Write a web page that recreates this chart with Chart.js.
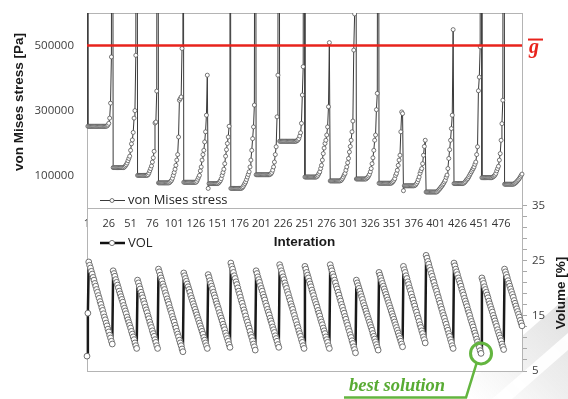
<!DOCTYPE html>
<html><head><meta charset="utf-8">
<script src="https://cdn.jsdelivr.net/npm/chart.js@4.4.1/dist/chart.umd.min.js"></script>
<style>html,body{margin:0;padding:0;background:#fff;}#wrap{position:relative;width:568px;height:399px;}</style>
</head><body><div id="wrap"><canvas id="c" width="568" height="399"></canvas></div>
<script>
// von Mises stress [Pa] per iteration (values above 600000 run off the top of the plot)
const stress = [
2500000,252000,
252000,252000,252000,252000,252000,252000,252000,252000,252000,252000,
252000,252000,252000,252000,252000,252000,252000,252000,252000,252000,
252000,253000,256000,261000,277000,323000,465000,2500000,
125000,125000,125000,125000,125000,125000,125000,125000,125000,125000,125000,125000,
125000,127000,130000,134000,139000,146000,153000,160000,178000,198000,210000,233000,277000,300000,470000,2500000,
101000,101000,101000,101000,101000,101000,101000,101000,101000,101000,101000,101000,
103000,108000,115000,122000,130000,142000,155000,175000,262000,265000,360000,2500000,
78000,78000,78000,78000,78000,78000,78000,78000,78000,78000,78000,78000,78000,
80000,83000,86000,92000,101000,110000,120000,132000,148000,165000,219000,332000,337000,342000,491000,2500000,
80000,80000,80000,80000,80000,80000,80000,80000,80000,80000,80000,80000,80000,80000,80000,
83000,89000,95000,101000,115000,127000,148000,165000,178000,204000,235000,286000,409000,
61000,76000,76000,76000,76000,76000,76000,76000,76000,76000,76000,76000,
78000,81000,85000,91000,101000,110000,120000,137000,160000,180000,199000,219000,252000,2500000,
61000,61000,61000,61000,61000,61000,61000,61000,61000,61000,61000,61000,61000,
63000,66000,71000,76000,81000,88000,96000,104000,112000,127000,148000,178000,214000,250000,317000,2500000,
103000,103000,103000,103000,103000,103000,103000,103000,103000,103000,103000,103000,103000,103000,103000,103000,
104000,106000,110000,117000,127000,142000,165000,189000,281000,409000,2500000,
206000,206000,206000,206000,206000,206000,206000,206000,206000,206000,
206000,206000,206000,206000,206000,206000,206000,206000,206000,206000,
208000,210000,214000,222000,232000,261000,348000,435000,2500000,
96000,96000,96000,96000,96000,96000,96000,96000,96000,96000,96000,96000,96000,96000,
98000,101500,107000,112000,122000,132000,148000,168000,185000,199000,209000,225000,250000,312000,509000,
84000,84000,84000,84000,84000,84000,84000,84000,84000,84000,84000,84000,
85000,87000,91000,96000,102000,107000,117000,127000,140000,153000,173000,190000,209000,235000,268000,486000,597000,2500000,
90000,90000,90000,90000,90000,90000,90000,90000,90000,90000,90000,90000,
93000,95000,99000,104000,112000,122000,137000,155000,178000,209000,225000,303000,353000,2500000,
77000,77000,77000,77000,77000,77000,77000,77000,77000,77000,77000,77000,77000,77000,77000,
79000,82000,86000,91000,101000,107000,117000,132000,148000,163000,235000,296000,291000,
54000,69000,69000,69000,69000,69000,69000,69000,69000,69000,69000,69000,69000,
70000,72000,76000,81000,88000,96000,107000,115000,122000,137000,163000,190000,209000,
50000,50000,50000,50000,50000,50000,50000,50000,50000,50000,50000,50000,50000,
52000,55000,58000,61000,65000,68000,72000,76000,81000,86000,95000,102000,122000,153000,180000,209000,245000,286000,549000,
76000,76000,76000,76000,76000,76000,76000,76000,76000,76000,76000,
77000,79000,82000,86000,89000,92000,97000,102000,107000,112000,117000,122000,127000,135000,142000,165000,189000,361000,403000,496000,2500000,
94000,94000,94000,94000,94000,94000,94000,94000,94000,94000,94000,94000,
95000,97000,99000,102000,107000,115000,122000,129000,148000,168000,209000,260000,332000,2500000,
74000,74000,74000,74000,74000,74000,74000,74000,74000,74000,74000,
75000,77000,79000,82000,85000,88000,92000,96000,101000,105000
];

// Volume [%] per iteration
const vol = [
7.7,15.5,
24.8,24.2,23.7,23.1,22.6,22.0,21.5,20.9,20.4,19.8,19.3,18.7,18.2,17.6,17.1,16.5,16.0,15.4,14.8,14.3,13.7,13.2,12.6,12.1,11.5,11.0,10.4,9.9,
23.2,22.7,22.2,21.6,21.1,20.6,20.1,19.5,19.0,18.5,18.0,17.5,16.9,16.4,15.9,15.4,14.8,14.3,13.8,13.3,12.8,12.2,11.7,11.2,10.7,10.1,9.6,9.1,
21.5,21.0,20.4,19.9,19.3,18.8,18.3,17.7,17.2,16.6,16.1,15.6,15.0,14.5,13.9,13.4,12.9,12.3,11.8,11.3,10.7,10.2,9.6,9.1,
23.5,23.0,22.4,21.9,21.4,20.8,20.3,19.8,19.2,18.7,18.1,17.6,17.1,16.5,16.0,15.5,14.9,14.4,13.9,13.3,12.8,12.2,11.7,11.2,10.6,10.1,9.6,9.0,8.5,
22.8,22.3,21.8,21.3,20.8,20.3,19.8,19.3,18.7,18.2,17.7,17.2,16.7,16.2,15.7,15.2,14.7,14.2,13.7,13.2,12.7,12.2,11.7,11.1,10.6,10.1,9.6,9.1,
22.5,22.0,21.4,20.9,20.4,19.9,19.3,18.8,18.3,17.7,17.2,16.7,16.2,15.6,15.1,14.6,14.1,13.5,13.0,12.5,11.9,11.4,10.9,10.4,9.8,9.3,
24.6,24.0,23.5,22.9,22.3,21.8,21.2,20.7,20.1,19.5,19.0,18.4,17.8,17.3,16.7,16.1,15.6,15.0,14.4,13.9,13.3,12.8,12.2,11.6,11.1,10.5,9.9,9.4,8.8,
23.2,22.7,22.1,21.6,21.1,20.5,20.0,19.5,18.9,18.4,17.9,17.3,16.8,16.2,15.7,15.2,14.6,14.1,13.6,13.0,12.5,12.0,11.4,10.9,10.4,9.8,9.3,
24.3,23.8,23.2,22.7,22.1,21.6,21.0,20.5,20.0,19.4,18.9,18.3,17.8,17.2,16.7,16.2,15.6,15.1,14.5,14.0,13.4,12.9,12.3,11.8,11.3,10.7,10.2,9.6,9.1,
24.0,23.5,22.9,22.4,21.9,21.3,20.8,20.3,19.7,19.2,18.7,18.1,17.6,17.1,16.6,16.0,15.5,15.0,14.4,13.9,13.4,12.8,12.3,11.8,11.2,10.7,10.2,9.6,9.1,
24.3,23.7,23.2,22.6,22.1,21.5,21.0,20.4,19.9,19.3,18.8,18.2,17.7,17.1,16.6,16.0,15.5,14.9,14.4,13.8,13.3,12.7,12.2,11.6,11.1,10.5,10.0,9.4,8.9,8.3,
21.5,21.0,20.5,20.0,19.5,19.0,18.5,18.0,17.4,16.9,16.4,15.9,15.4,14.9,14.4,13.9,13.4,12.9,12.4,11.8,11.3,10.8,10.3,9.8,9.3,8.8,
22.9,22.4,21.9,21.4,20.9,20.4,19.9,19.4,18.9,18.4,17.9,17.4,16.9,16.4,15.9,15.4,14.9,14.4,13.9,13.4,12.9,12.4,11.9,11.4,10.9,10.4,9.9,9.4,
24.0,23.4,22.9,22.3,21.8,21.2,20.7,20.1,19.6,19.0,18.4,17.9,17.3,16.8,16.2,15.7,15.1,14.6,14.0,13.4,12.9,12.3,11.8,11.2,10.7,10.1,
26.0,25.5,24.9,24.4,23.8,23.3,22.7,22.2,21.6,21.1,20.5,20.0,19.5,18.9,18.4,17.8,17.3,16.7,16.2,15.6,15.1,14.6,14.0,13.5,12.9,12.4,11.8,11.3,10.7,10.2,9.6,9.1,
24.6,24.1,23.5,23.0,22.5,21.9,21.4,20.9,20.4,19.8,19.3,18.8,18.2,17.7,17.2,16.7,16.1,15.6,15.1,14.5,14.0,13.5,13.0,12.4,11.9,11.4,10.8,10.3,9.8,9.3,8.7,8.2,
21.9,21.4,20.9,20.3,19.8,19.3,18.8,18.3,17.7,17.2,16.7,16.2,15.7,15.1,14.6,14.1,13.6,13.1,12.5,12.0,11.5,11.0,10.5,9.9,9.4,8.9,
23.5,23.0,22.5,22.0,21.4,20.9,20.4,19.9,19.4,18.9,18.4,17.8,17.3,16.8,16.3,15.8,15.3,14.8,14.2,13.7,13.2
];

const xTickLabels = ['1','26','51','76','101','126','151','176','201','226','251','276','301','326','351','376','401','426','451','476'];
const stressTickValues = [100000, 300000, 500000];
const volTickValues = [5,7,9,11,13,15,17,19,21,23,25,27,29,31,33,35];
const volLabelValues = [5,15,25,35];
const stressLimit = 500000;
const bestIteration = 453;
const seriesNames = ['von Mises stress', 'VOL'];
const categories = stress.map((_, i) => String(i + 1));

const SANS = "'Open Sans', sans-serif";
const BOLD = "'Liberation Sans', Arial, sans-serif";
const SERIF = "'Liberation Serif', 'DejaVu Serif', serif";

const decor = {
  id: 'decor',
  beforeDraw(chart) {
    const {ctx, chartArea: a} = chart;
    ctx.save();
    const g = ctx.createLinearGradient(470, 399, 568, 300);
    g.addColorStop(0, 'rgba(210,210,210,0.0)');
    g.addColorStop(0.5, 'rgba(200,200,200,0.3)');
    g.addColorStop(1, 'rgba(185,185,185,0.45)');
    ctx.fillStyle = g;
    ctx.beginPath(); ctx.moveTo(450, 399); ctx.lineTo(568, 296); ctx.lineTo(568, 399); ctx.closePath(); ctx.fill();
    ctx.fillStyle = 'rgba(255,255,255,0.95)';
    ctx.beginPath(); ctx.moveTo(492, 399); ctx.lineTo(568, 333); ctx.lineTo(568, 350); ctx.lineTo(512, 399); ctx.closePath(); ctx.fill();
    ctx.fillStyle = '#fff';
    ctx.fillRect(a.left, a.top, a.right - a.left, a.bottom - a.top);
    ctx.restore();
  },
  beforeDatasetsDraw(chart) {
    const {ctx, chartArea: a} = chart;
    ctx.save();
    ctx.strokeStyle = '#b4b4b4'; ctx.lineWidth = 1;
    ctx.beginPath();
    ctx.moveTo(a.left, Math.round(a.top) + 0.5); ctx.lineTo(a.right, Math.round(a.top) + 0.5);
    ctx.moveTo(a.left, Math.round(a.bottom) + 0.5); ctx.lineTo(a.right, Math.round(a.bottom) + 0.5);
    ctx.stroke();
    ctx.restore();
  },
  afterDatasetsDraw(chart) {
    const {ctx, chartArea: a, scales} = chart;
    ctx.save();
    // limit line
    const ly = scales.y.getPixelForValue(stressLimit);
    ctx.strokeStyle = '#e8231c'; ctx.lineWidth = 2.5;
    ctx.beginPath(); ctx.moveTo(a.left, ly); ctx.lineTo(a.right, ly); ctx.stroke();
    ctx.fillStyle = '#e8231c';
    ctx.font = "italic bold 20px " + SERIF;
    ctx.textAlign = 'left'; ctx.textBaseline = 'alphabetic';
    ctx.fillText('g', 529, ly + 7);
    ctx.fillRect(528, ly - 7, 15, 2);

    // axis titles
    ctx.fillStyle = '#1a1a1a';
    ctx.font = "bold 13.5px " + BOLD;
    ctx.textAlign = 'center'; ctx.textBaseline = 'middle';
    ctx.save(); ctx.translate(19, 102); ctx.rotate(-Math.PI / 2); ctx.fillText('von Mises stress [Pa]', 0, 0); ctx.restore();
    ctx.save(); ctx.translate(561, 293); ctx.rotate(-Math.PI / 2); ctx.fillText('Volume [%]', 0, 0); ctx.restore();

    // legends
    ctx.textAlign = 'left'; ctx.textBaseline = 'middle';
    ctx.font = "13px " + SANS;
    ctx.strokeStyle = '#3a3a3a'; ctx.lineWidth = 1;
    ctx.beginPath(); ctx.moveTo(100, 200.5); ctx.lineTo(125, 200.5); ctx.stroke();
    ctx.beginPath(); ctx.arc(112, 200.5, 2, 0, Math.PI * 2); ctx.fillStyle = '#fff'; ctx.fill(); ctx.strokeStyle = '#555'; ctx.lineWidth = 0.8; ctx.stroke();
    ctx.fillStyle = '#262626'; ctx.fillText(seriesNames[0], 128, 200);
    ctx.strokeStyle = '#111'; ctx.lineWidth = 2.5;
    ctx.beginPath(); ctx.moveTo(100, 243); ctx.lineTo(125, 243); ctx.stroke();
    ctx.beginPath(); ctx.arc(112, 243, 2.6, 0, Math.PI * 2); ctx.fillStyle = '#fff'; ctx.fill(); ctx.strokeStyle = '#777'; ctx.lineWidth = 1; ctx.stroke();
    ctx.fillStyle = '#262626'; ctx.fillText(seriesNames[1], 128, 243);

    // best solution
    const bx = scales.x.getPixelForValue(bestIteration - 1);
    const by = scales.y1.getPixelForValue(vol[bestIteration - 1]);
    ctx.strokeStyle = '#63b53f'; ctx.lineWidth = 3;
    ctx.beginPath(); ctx.arc(bx, by, 10.5, 0, Math.PI * 2); ctx.stroke();
    ctx.lineWidth = 2.5;
    ctx.beginPath(); ctx.moveTo(bx - 4.5, by + 10); ctx.lineTo(466, 397.5); ctx.lineTo(344, 397.5); ctx.stroke();
    ctx.fillStyle = '#58ab33';
    ctx.font = "italic bold 18.5px " + SERIF;
    ctx.textAlign = 'left'; ctx.textBaseline = 'alphabetic';
    ctx.fillText('best solution', 349, 391);
    ctx.restore();
  }
};

new Chart(document.getElementById('c'), {
  type: 'line',
  data: {
    labels: categories,
    datasets: [
      { label: seriesNames[0], data: stress, yAxisID: 'y', borderColor: '#3a3a3a', borderWidth: 1, borderJoinStyle: 'round',
        pointRadius: 2, pointBorderWidth: 0.8, pointBackgroundColor: '#fff', pointBorderColor: '#555', tension: 0 },
      { label: seriesNames[1], data: vol, yAxisID: 'y1', borderColor: '#1a1a1a', borderWidth: 2.5, borderJoinStyle: 'round',
        pointRadius: 2.9, pointBorderWidth: 1, pointBackgroundColor: '#fff', pointBorderColor: '#707070', tension: 0 }
    ]
  },
  options: {
    responsive: false, animation: false, events: [],
    layout: { padding: { top: 13, bottom: 28, left: 0, right: 0 } },
    plugins: { legend: { display: false }, tooltip: { enabled: false } },
    scales: {
      x: {
        type: 'category', position: { y: 0 }, offset: false,
        afterFit: s => { s.paddingLeft = 0; s.paddingRight = 0; },
        grid: { display: false, drawTicks: false },
        border: { display: true, color: '#b4b4b4' },
        ticks: {
          autoSkip: false, maxRotation: 0, minRotation: 0, padding: 9, color: '#333',
          font: { family: SANS, size: 11 },
          callback(v) { const l = this.getLabelForValue(v); return xTickLabels.includes(l) ? l : ''; }
        },
        title: { display: true, text: 'Interation', color: '#1a1a1a', font: { family: BOLD, size: 13.5, weight: 'bold' }, padding: { top: -5, bottom: 0 } }
      },
      y: {
        position: 'left', min: -500000, max: 600000,
        afterBuildTicks: s => { s.ticks = stressTickValues.map(v => ({ value: v })); },
        afterFit: s => { s.width = 87; s.paddingTop = 0; s.paddingBottom = 0; },
        grid: { display: false, drawTicks: false },
        border: { display: true, color: '#b4b4b4' },
        ticks: { padding: 13, color: '#404040', font: { family: SANS, size: 11.5 }, callback: v => String(v) }
      },
      y1: {
        position: 'right', min: 5, max: 70,
        afterBuildTicks: s => { s.ticks = volTickValues.map(v => ({ value: v })); },
        afterFit: s => { s.width = 46; s.paddingTop = 0; s.paddingBottom = 0; },
        grid: { drawOnChartArea: false, drawTicks: true, tickLength: 5, color: '#a8a8a8' },
        border: { display: true, color: '#b4b4b4' },
        ticks: { padding: 5, color: '#404040', font: { family: SANS, size: 11.5 }, callback: v => volLabelValues.includes(v) ? String(v) : '' }
      }
    }
  },
  plugins: [decor]
});
</script>
</body></html>
